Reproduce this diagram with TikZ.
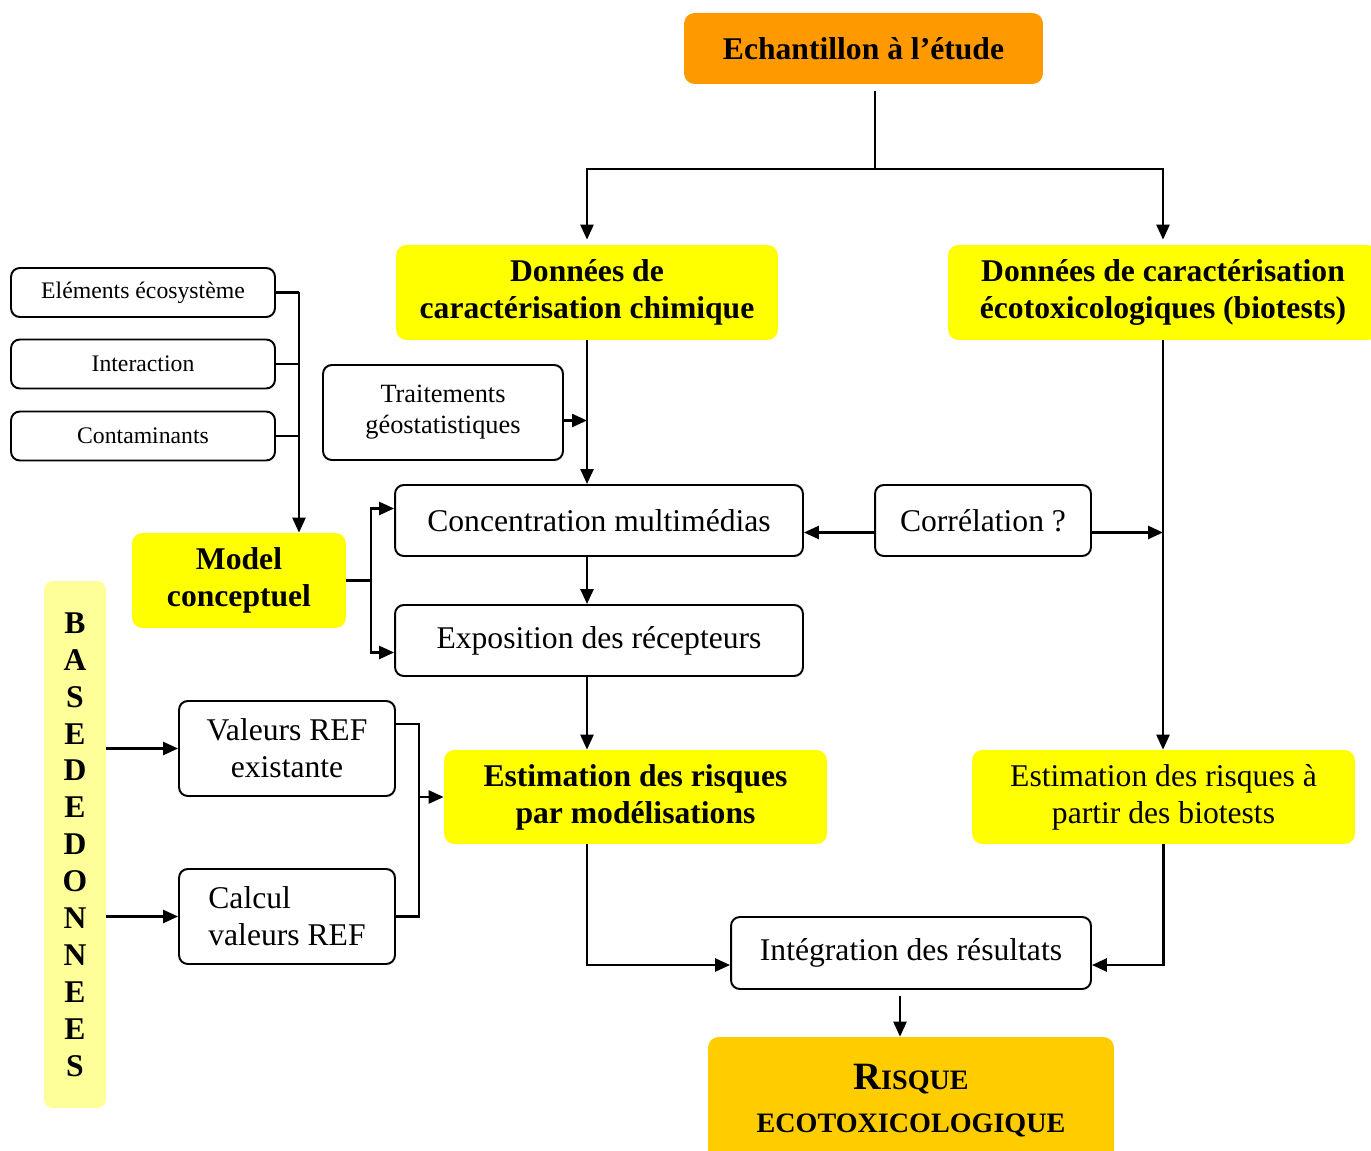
\documentclass[tikz,border=0pt]{standalone}
\usepackage{fontspec}
\setmainfont{Liberation Serif}
\usetikzlibrary{arrows.meta}
\definecolor{echorange}{HTML}{FF9900}
\definecolor{hiyellow}{HTML}{FFFF00}
\definecolor{paleyellow}{HTML}{FFFF99}
\definecolor{riskgold}{HTML}{FFCC00}

\begin{document}
\begin{tikzpicture}[
  x=0.02cm, y=-0.02cm,
  >={Triangle[length=0.3cm,width=0.26cm]},
  box/.style={draw, line width=1.1pt, rounded corners=5pt, fill=white,
              align=center, inner sep=0pt, font=\fontsize{18}{21}\selectfont},
  smallbox/.style={box, font=\fontsize{13.5}{16}\selectfont},
  hbox/.style={fill=hiyellow, rounded corners=6pt, align=center,
               inner sep=0pt, font=\fontsize{18}{21}\selectfont\bfseries},
  arr/.style={->, line width=1.4pt},
  link/.style={line width=1.4pt}
]
\useasboundingbox (0,0) rectangle (1371,1151);

%% Sample and the two characterisations
\node[hbox, fill=echorange, minimum width=7.18cm, minimum height=1.42cm]
  (ech) at (863.5,48.5) {Echantillon à l’étude};
\node[hbox, minimum width=7.64cm, minimum height=1.9cm]
  (chim) at (587,292.5) {Données de\\caractérisation chimique};
\node[hbox, minimum width=8.6cm, minimum height=1.9cm]
  (eco) at (1163,292.5) {Données de caractérisation\\écotoxicologiques (biotests)};

%% Conceptual model inputs
\node[smallbox, minimum width=5.28cm, minimum height=0.98cm] (elem) at (143,292.5) {Eléments écosystème};
\node[smallbox, minimum width=5.28cm, minimum height=0.98cm] (inter) at (143,364) {Interaction};
\node[smallbox, minimum width=5.28cm, minimum height=0.98cm] (cont) at (143,436) {Contaminants};
\node[hbox, minimum width=4.28cm, minimum height=1.9cm] (mod) at (239,580.5) {Model\\conceptuel};
\node[box, font=\fontsize{15}{17.6}\selectfont, minimum width=4.8cm, minimum height=1.9cm]
  (trait) at (443,412.5) {Traitements\\géostatistiques};

%% Chemical branch
\node[box, minimum width=8.16cm, minimum height=1.42cm] (conc) at (599,520.5) {Concentration multimédias};
\node[box, minimum width=8.16cm, minimum height=1.42cm] (expo) at (599,640.5) {Exposition des récepteurs};
\node[box, minimum width=4.32cm, minimum height=1.42cm] (corr) at (983,520.5) {Corrélation ?};
\node[hbox, minimum width=7.66cm, minimum height=1.88cm]
  (estmod) at (635.5,797) {Estimation des risques\\par modélisations};
\node[hbox, font=\fontsize{18}{21}\selectfont, minimum width=7.66cm, minimum height=1.88cm]
  (estbio) at (1163.5,797) {Estimation des risques à\\partir des biotests};

%% Data base
\node[fill=paleyellow, rounded corners=5pt, align=center, inner sep=0pt,
      minimum width=1.24cm, minimum height=10.54cm, font=\fontsize{18}{21}\selectfont\bfseries]
  (base) at (75,844.5) {B\\A\\S\\E\\D\\E\\D\\O\\N\\N\\E\\E\\S};
\node[box, minimum width=4.32cm, minimum height=1.9cm] (val) at (287,748.5) {Valeurs REF\\existante};
\node[box, align=left, minimum width=4.32cm, minimum height=1.9cm] (calc) at (287,916.5) {Calcul\\valeurs REF};

%% Result
\node[box, minimum width=7.2cm, minimum height=1.44cm] (integ) at (911,953) {Intégration des résultats};
\node[hbox, fill=riskgold, font=\fontsize{16}{24.5}\selectfont\bfseries, minimum width=8.12cm, minimum height=2.56cm]
  (risk) at (911,1101) {{\fontsize{22}{24.5}\selectfont R}ISQUE\\ECOTOXICOLOGIQUE};

%% Top split
\coordinate (split) at (875,169);
\draw[link] ([yshift=-0.14cm]split |- ech.south) -- (split);
\draw[arr] (split) -| ([yshift=0.1cm]chim.north);
\draw[arr] (split) -| ([yshift=0.1cm]eco.north);

%% Inputs to the model
\coordinate (bus) at (299,292.5);
\draw[link] (elem.east) -- (bus);
\draw[link] (inter.east) -- (bus |- inter.east);
\draw[link] (cont.east) -- (bus |- cont.east);
\draw[arr] (bus) -- (bus |- mod.north);

%% Chemical chain
\coordinate (tin) at ([yshift=-0.16cm]trait.east);
\draw[arr] (chim.south) -- (chim.south |- conc.north);
\draw[arr] (tin) -- (tin -| chim.south);
\draw[arr] (chim.south |- conc.south) -- (chim.south |- expo.north);
\draw[arr] (chim.south |- expo.south) -- (chim.south |- estmod.north);

\coordinate (fork) at (371,580.5);
\draw[link] (mod.east) -- (fork);
\draw[arr] (fork) |- ([yshift=0.24cm]conc.west);
\draw[arr] (fork) |- ([yshift=-0.24cm]expo.west);

%% Correlation
\coordinate (cl) at ([yshift=-0.24cm]corr.west);
\coordinate (cr) at ([yshift=-0.24cm]corr.east);
\draw[arr] (cl) -- (cl -| conc.east);
\draw[arr] (cr) -- (cr -| eco.south);

%% Biotest chain
\draw[arr] (eco.south) -- (eco.south |- estbio.north);

%% Reference values
\coordinate (join) at (419,797);
\draw[link] ([yshift=0.49cm]val.east) -| (join |- calc.east) -- (calc.east);
\draw[arr] (join) -- (join -| estmod.west);
\draw[arr] (base.east |- val.west) -- (val.west);
\draw[arr] (base.east |- calc.west) -- (calc.west);

%% Integration
\coordinate (il) at ([yshift=-0.24cm]integ.west);
\coordinate (ir) at ([yshift=-0.24cm]integ.east);
\draw[arr] (chim.south |- estmod.south) |- (il);
\draw[arr] (estbio.south) |- (ir);
\coordinate (ro) at ([xshift=-0.22cm,yshift=-0.12cm]integ.south);
\draw[arr] (ro) -- (ro |- risk.north);

\end{tikzpicture}
\end{document}
